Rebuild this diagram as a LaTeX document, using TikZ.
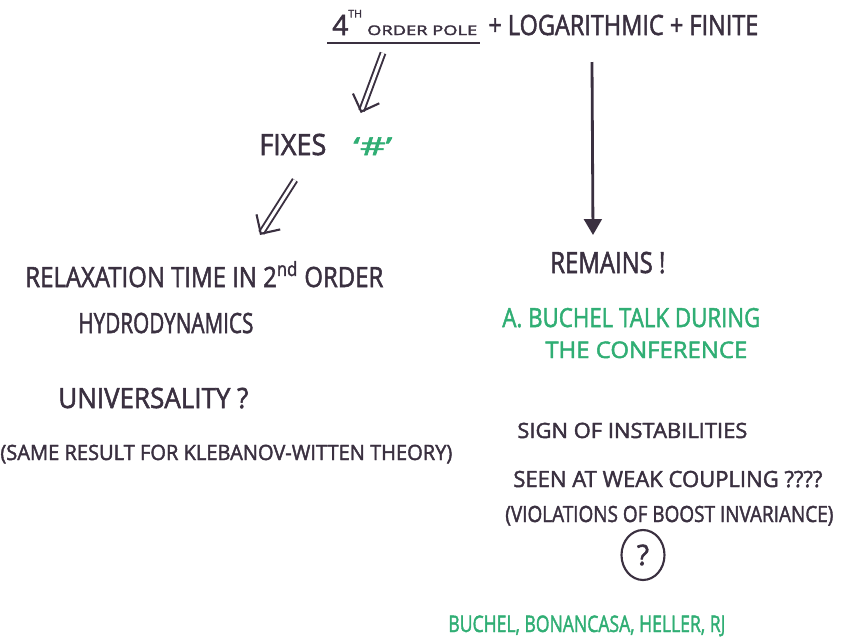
\documentclass[tikz,border=0pt]{standalone}
\usepackage{fontspec}
\usepackage{graphicx}
\setmainfont{Open Sans}[FakeBold=2]
\usetikzlibrary{arrows.meta,calc,shapes.geometric}
\definecolor{ink}{RGB}{58,48,64}
\definecolor{inkgreen}{RGB}{48,174,116}
% stretch a line of handwriting to a width given in px of the sketch
\newcommand{\hw}[2]{\resizebox{\dimexpr0.02cm*#1\relax}{\height}{#2}}

\begin{document}
\begin{tikzpicture}[x=0.02cm, y=-0.02cm,
    note/.style={inner sep=0, anchor=base west, text=ink, font=\fontsize{#1}{#1}\selectfont},
    note/.default=15,
    gnote/.style={note=#1, text=inkgreen},
    gnote/.default=13,
    dbl/.style={draw=ink, line width=1.1pt, double=white, double distance=1.7pt,
      -{Straight Barb[length=8pt, width=16pt, line width=1.2pt]}},
    arr/.style={draw=ink, line width=1.6pt, -{Triangle[width=10pt,length=9pt]}}]
  \useasboundingbox (0,0) rectangle (852,640);

  % top line
  \node[note=15.9] (pole) at (332,35) {4\raisebox{10pt}{\fontsize{6}{6}\selectfont TH}\hspace{3pt}\hw{110}{\fontsize{7.5}{7.5}\selectfont ORDER POLE}};
  \node[note=15.9] (rest) at (488,35) {\hw{270}{+ LOGARITHMIC + FINITE}};
  \draw[ink, line width=1.6pt] ($(pole.base west)+(-5,8)$) -- ($(pole.base east)+(2,8)$);

  % left branch
  \node[note=16.7] (fixes) at (259,155) {\hw{67}{FIXES}};
  \node[gnote=14] (hash) at (353,155) {\hw{39}{‘\#’}};
  \node[note=15.9] (relax) at (25,287) {\hw{358}{RELAXATION TIME IN 2\textsuperscript{nd} ORDER}};
  \node[note=15.9] (hydro) at (78,333) {\hw{175}{HYDRODYNAMICS}};
  \node[note=15.9] (univ) at (58,408) {\hw{190}{UNIVERSALITY ?}};
  \node[note=12] (kw) at (0,460) {\hw{452}{(SAME RESULT FOR KLEBANOV-WITTEN THEORY)}};

  % right branch
  \node[note=16.7] (remains) at (550,273) {\hw{115}{REMAINS !}};
  \node[gnote=15] (talk) at (502,327) {\hw{258}{A. BUCHEL TALK DURING}};
  \node[gnote=13] (conf) at (545,358) {\hw{202}{THE CONFERENCE}};
  \node[note=12] (sign) at (517,438) {\hw{230}{SIGN OF INSTABILITIES}};
  \node[note=12.7] (weak) at (513,487) {\hw{309}{SEEN AT WEAK COUPLING ????}};
  \node[note=12.7] (boost) at (505,522) {\hw{328}{(VIOLATIONS OF BOOST INVARIANCE)}};
  \node[draw=ink, line width=1.2pt, ellipse, inner sep=0, minimum width=0.86cm, minimum height=1cm,
        text=ink, font=\fontsize{16}{16}\selectfont] (qmark) at (643,555) {?};
  \node[gnote=13] (refs) at (448,632) {\hw{277}{BUCHEL, BONANCASA, HELLER, RJ}};

  \draw[dbl] ($(pole.base west)+(51,18)$) -- ($(fixes.base east)+(34,-42)$);
  \draw[dbl] ($(fixes.base west)+(36,25)$) -- ($(relax.base west)+(235,-52)$);
  \draw[arr] ($(rest.base west)+(104,27)$) -- ($(remains.base west)+(43,-38)$);
\end{tikzpicture}
\end{document}
